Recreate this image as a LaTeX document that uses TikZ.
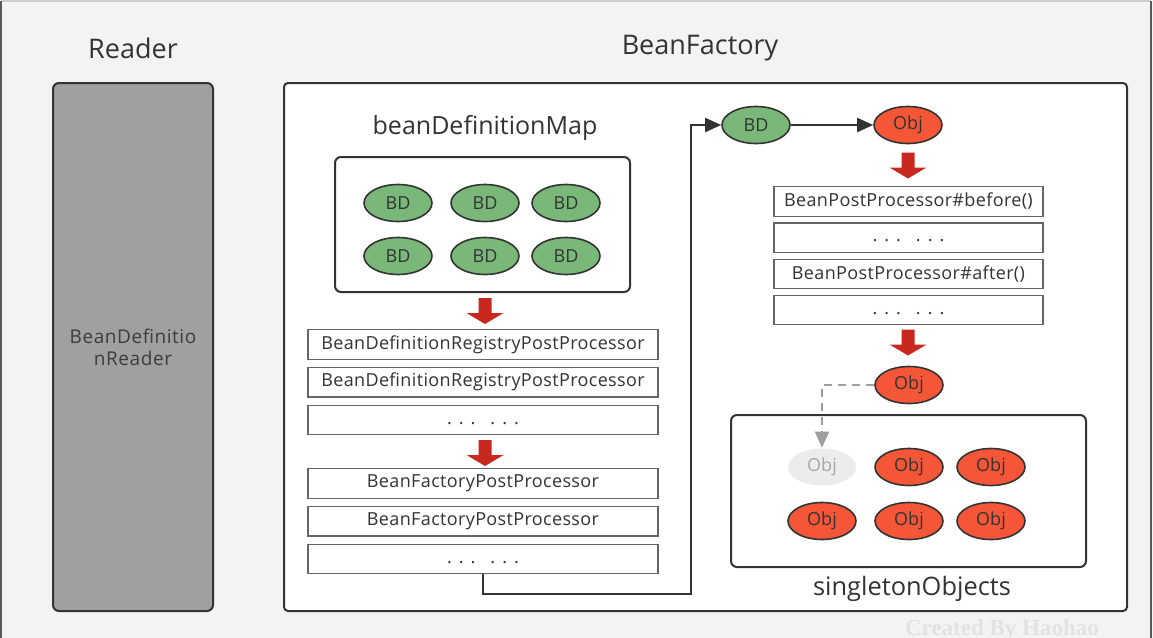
\documentclass[tikz,border=0pt]{standalone}
\usepackage{fontspec}
\setmainfont{Open Sans}
\newfontfamily\markfont{Liberation Serif}
\usetikzlibrary{arrows.meta, positioning, shapes.geometric}

\definecolor{pagebg}{RGB}{243,243,243}
\definecolor{readergray}{RGB}{160,160,160}
\definecolor{bdgreen}{RGB}{122,184,122}
\definecolor{objred}{RGB}{245,86,56}
\definecolor{flowred}{RGB}{200,40,30}
\definecolor{inkgray}{RGB}{51,51,51}
\definecolor{ghostfill}{RGB}{236,236,236}
\definecolor{ghostink}{RGB}{168,168,168}
\definecolor{markgray}{RGB}{226,226,226}

\newcommand{\moredots}{\vphantom{Bg}.\hspace{3.5pt}.\hspace{3.5pt}.\hspace{7.5pt}.\hspace{3.5pt}.\hspace{3.5pt}.}

\tikzset{
    flowarrow/.pic={
        \fill[flowred] (-3.25pt,6.5pt) -- (3.25pt,6.5pt) -- (3.25pt,-1pt) -- (9.25pt,-1pt)
            -- (0pt,-6.5pt) -- (-9.25pt,-1pt) -- (-3.25pt,-1pt) -- cycle;
    }
}

\begin{document}
\begin{tikzpicture}[
    x=0.5pt, y=-0.5pt,
    >={Triangle[length=8pt,width=7pt]},
    title/.style={font=\fontsize{13.5}{16}\selectfont, text=inkgray},
    container/.style={draw=inkgray, line width=1pt, rounded corners=3pt},
    bean/.style={
        ellipse,
        draw=inkgray,
        line width=0.8pt,
        minimum width=34pt,
        minimum height=18.5pt,
        inner sep=0pt,
        font=\fontsize{9}{10}\selectfont,
        text=inkgray
    },
    bd/.style={bean, fill=bdgreen},
    obj/.style={bean, fill=objred},
    ghost/.style={bean, draw=none, fill=ghostfill, text=ghostink},
    procbox/.style={
        draw=inkgray!75,
        line width=0.6pt,
        fill=white,
        minimum width=175pt,
        minimum height=14.75pt,
        inner sep=0pt,
        font=\fontsize{9}{10}\selectfont\addfontfeatures{LetterSpace=2},
        text=inkgray
    },
    postbox/.style={procbox, minimum width=134.5pt}
]
\useasboundingbox (0,0) rectangle (1153,638);

% ---------------- BACKGROUND ----------------
\fill[pagebg] (0,0) rectangle (1153,638);
\draw[black!20, line width=1pt] (1,1) -- (1151,1);
\draw[black!65, line width=1.2pt] (1,1) -- (1,640);
\draw[black!65, line width=1.2pt] (1151,1) -- (1151,640);

% ---------------- READER ----------------
\node[title] (readerTitle) at (133,48) {Reader};
\node[draw=inkgray, line width=1pt, rounded corners=3pt, fill=readergray,
      minimum width=80pt, minimum height=264pt] (reader) at (133,347) {};
\node[align=center, font=\fontsize{9.5}{11}\selectfont\addfontfeatures{LetterSpace=3}, text=inkgray!95] (readerText) at (133,347) {BeanDefinitio\\nReader};

% ---------------- BEANFACTORY ----------------
\node[title] (factoryTitle) at (700,48) {BeanFactory};
\draw[container, fill=white, rounded corners=2pt] (284,83) rectangle (1127,611);

% beanDefinitionMap
\node[font=\fontsize{12.5}{14}\selectfont, text=inkgray] (mapTitle) at (485,128) {beanDefinitionMap};
\draw[container] (335,157) rectangle (630,292);
\node[bd] (bd1) at (398,203) {BD};
\node[bd] (bd2) at (485,203) {BD};
\node[bd] (bd3) at (566,203) {BD};
\node[bd] (bd4) at (398,256) {BD};
\node[bd] (bd5) at (485,256) {BD};
\node[bd] (bd6) at (566,256) {BD};

% post processors of the factory
\pic (flowA) at (485,311) {flowarrow};
\node[procbox] (regA)  at (483,344.5)         {BeanDefinitionRegistryPostProcessor};
\node[procbox] (regB)  [below=3.5pt of regA]  {BeanDefinitionRegistryPostProcessor};
\node[procbox] (regC)  [below=3.5pt of regB]  {\moredots};
\pic (flowB) at (485,453) {flowarrow};
\node[procbox] (facA)  at (483,483.5)         {BeanFactoryPostProcessor};
\node[procbox] (facB)  [below=3.5pt of facA]  {BeanFactoryPostProcessor};
\node[procbox] (facC)  [below=3.5pt of facB]  {\moredots};

% bean creation
\node[bd]  (bdOne)  at (756,125) {BD};
\node[obj] (objOne) at (908,125) {Obj};
\pic (flowC) at (908,165.5) {flowarrow};
\node[postbox] (postA) at (908.5,201.5)        {BeanPostProcessor\#before()};
\node[postbox] (postB) [below=2.75pt of postA] {\moredots};
\node[postbox] (postC) [below=2.75pt of postB] {BeanPostProcessor\#after()};
\node[postbox] (postD) [below=2.75pt of postC] {\moredots};
\pic (flowD) at (908,342.5) {flowarrow};
\node[obj] (objDone) at (909,385) {Obj};

% singletonObjects
\draw[container] (731,415) rectangle (1086,567);
\node[ghost] (slot1) at (822,467) {Obj};
\node[obj]   (slot2) at (909,467) {Obj};
\node[obj]   (slot3) at (991,467) {Obj};
\node[obj]   (slot4) at (822,521) {Obj};
\node[obj]   (slot5) at (909,521) {Obj};
\node[obj]   (slot6) at (991,521) {Obj};
\node[font=\fontsize{12.7}{14}\selectfont, text=inkgray] (singTitle) at (912,589) {singletonObjects};

% connectors
\coordinate (loopTurn) at (691,594);
\draw[->, inkgray, line width=1pt] (facC.south) |- (loopTurn) |- (bdOne.west);
\draw[->, inkgray, line width=1pt] (bdOne) -- (objOne);
\draw[->, black!38, line width=1pt, dash pattern=on 4pt off 3pt] (objDone.west) -| (slot1.north);

% watermark
\node[font=\markfont\bfseries\fontsize{11.5}{12}\selectfont, text=markgray] (mark) at (1002,630) {Created By Haohao};

\end{tikzpicture}
\end{document}
